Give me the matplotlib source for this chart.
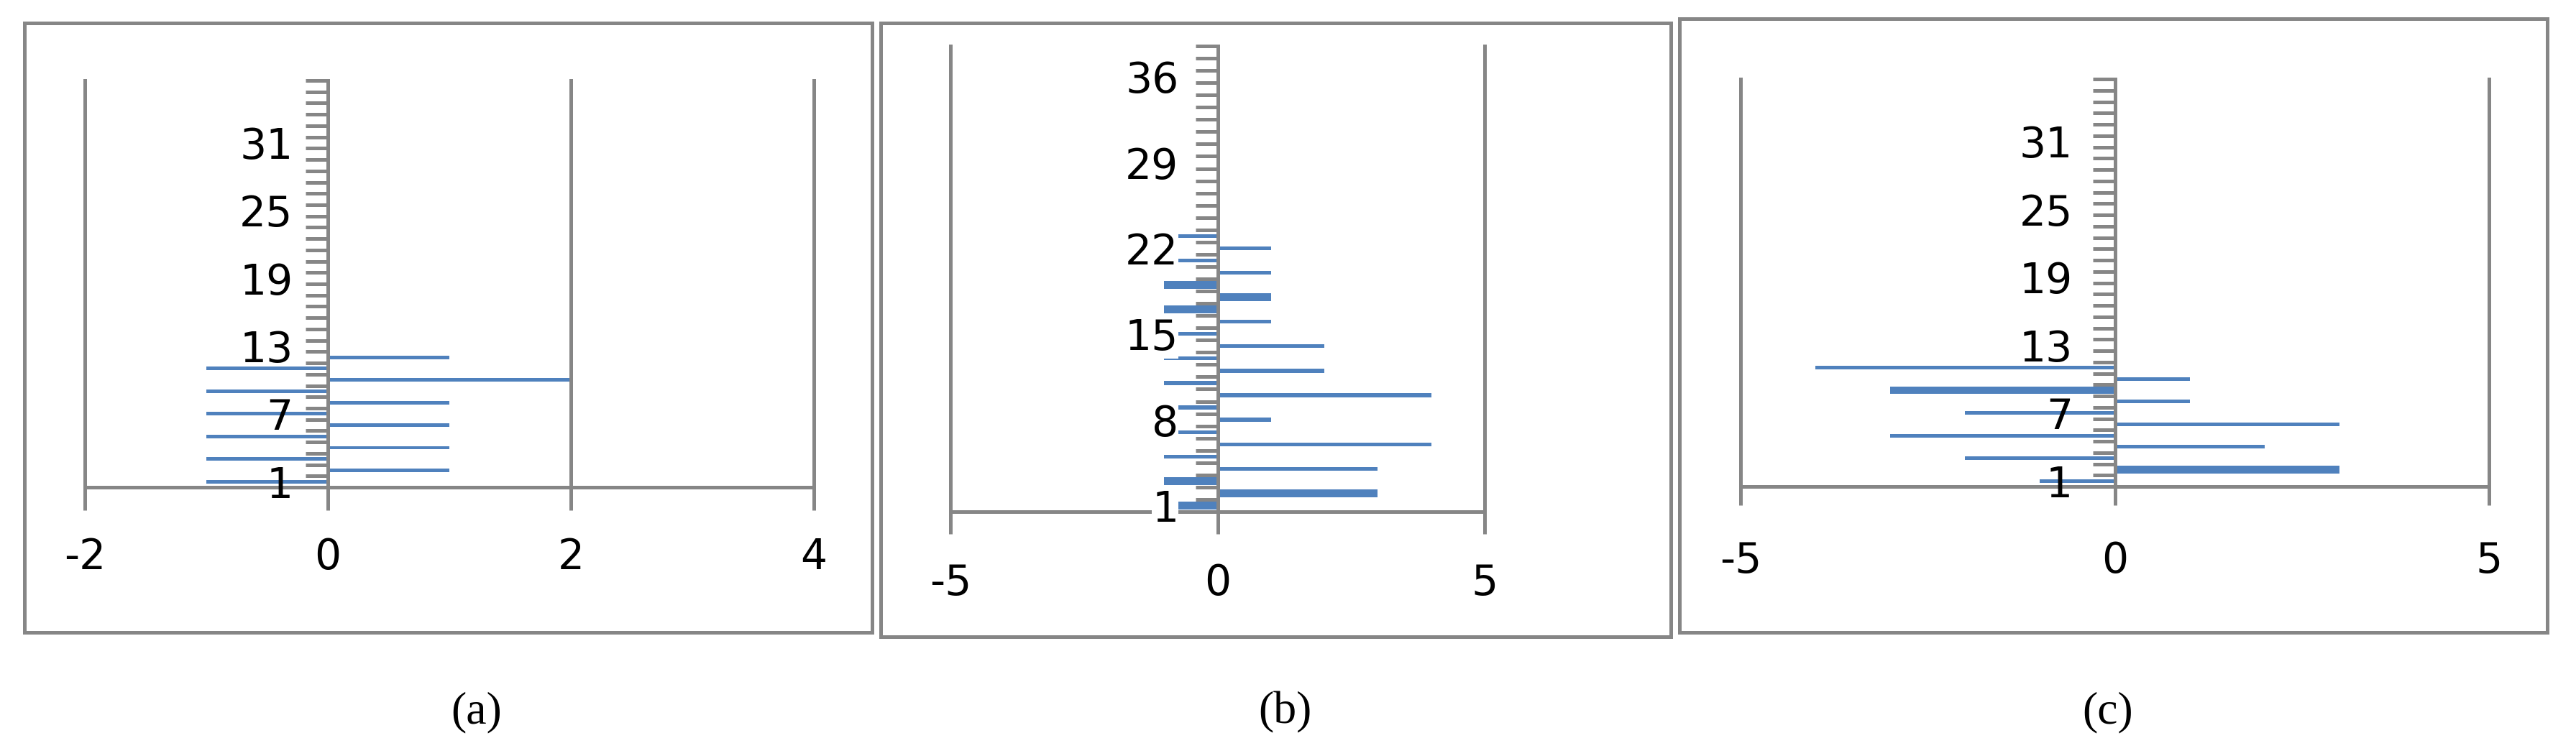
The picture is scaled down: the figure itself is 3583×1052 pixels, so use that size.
import matplotlib
matplotlib.use("Agg")
import matplotlib.pyplot as plt
from matplotlib.patches import Rectangle
from matplotlib.ticker import FixedLocator

### data
vals_a = [-1, 1, -1, 1, -1, 1, -1, 1, -1, 2, -1, 1]
vals_b = [-1, 3, -1, 3, -1, 4, -1, 1, -1, 4, -1, 2, -1, 2, -1, 1, -1, 1, -1, 1, -1, 1, -1]
vals_c = [-1, 3, -2, 2, -3, 3, -2, 1, -3, 1, -4]
ncat_a, ncat_b, ncat_c = 36, 38, 36
ylab_a = [1, 7, 13, 19, 25, 31]
ylab_b = [1, 8, 15, 22, 29, 36]
ylab_c = [1, 7, 13, 19, 25, 31]
xt_a = [-2, 0, 2, 4]
xt_b = [-5, 0, 5]
xt_c = [-5, 0, 5]
captions = ["(a)", "(b)", "(c)"]

### style
W, H = 3583, 1052
gray = "#868686"
blue = "#4F81BD"
lw = 3.6

def fx(px):
    return px / W

def fy(py):
    return 1 - py / H

fig = plt.figure(figsize=(W / 100, H / 100), dpi=100)

def panel(box, frame, vals, ncat, ylab, xt, ypad, xpad, xtlen, thick=(), hide=False):
    x0, x1, y0, y1 = box
    ax = fig.add_axes([fx(x0), fy(y1), fx(x1) - fx(x0), (y1 - y0) / H])
    ax.set_xlim(xt[0], xt[-1])
    ax.set_ylim(0.5, ncat + 0.5)
    cats = list(range(1, len(vals) + 1))
    hts = [0.66 if c in thick else 0.31 for c in cats]
    ax.barh(cats, vals, height=hts, color=blue, zorder=1)

    for s in ["top", "right"]:
        ax.spines[s].set_visible(False)
    ax.spines["left"].set_position(("data", 0))
    for s in ["left", "bottom"]:
        ax.spines[s].set_color(gray)
        ax.spines[s].set_linewidth(lw)
    ax.set_axisbelow(False)
    ax.xaxis.grid(True, color=gray, lw=lw)

    ax.set_xticks(xt)
    ax.set_xticklabels([str(v) for v in xt])
    ax.tick_params(axis="x", direction="out", length=xtlen, width=lw, color=gray,
                   pad=xpad, labelsize=42)
    for gl in ax.get_xgridlines():
        gl.set_clip_on(False)
    ax.set_yticks(ylab)
    ax.set_yticklabels([str(v) for v in ylab])
    ax.yaxis.set_minor_locator(FixedLocator([k + 0.5 for k in range(ncat + 1)]))
    ax.tick_params(axis="y", which="major", length=0, pad=ypad, labelsize=42)
    ax.tick_params(axis="y", which="minor", direction="out", length=22, width=lw, color=gray)
    if hide:
        for t in ax.get_yticklabels():
            t.set_bbox(dict(facecolor="white", edgecolor="none", pad=0))

    fx0, fx1, fy0, fy1 = frame
    fig.add_artist(Rectangle((fx(fx0), fy(fy1)), fx(fx1) - fx(fx0), (fy1 - fy0) / H,
                             transform=fig.transFigure, fill=False, ec=gray, lw=lw))
    return ax

panel((118, 1132, 112, 678), (33.5, 1212.5, 31.5, 880), vals_a, ncat_a, ylab_a, xt_a,
      ypad=35, xpad=27, xtlen=23)
panel((1322, 2065, 64, 712), (1224.5, 2324, 31.5, 885.5), vals_b, ncat_b, ylab_b, xt_b,
      ypad=39, xpad=29, xtlen=22, thick=(1, 2, 3, 17, 18, 19), hide=True)
panel((2421, 3462, 110, 677), (2335.5, 3542.5, 25.5, 879.5), vals_c, ncat_c, ylab_c, xt_c,
      ypad=42, xpad=35, xtlen=19, thick=(2, 9))

for cx, cap in zip([663, 1787, 2932], captions):
    fig.text(fx(cx), fy(991), cap, ha="center", va="center", fontsize=46,
             family="Liberation Serif")

plt.savefig("out.png", dpi=100)
